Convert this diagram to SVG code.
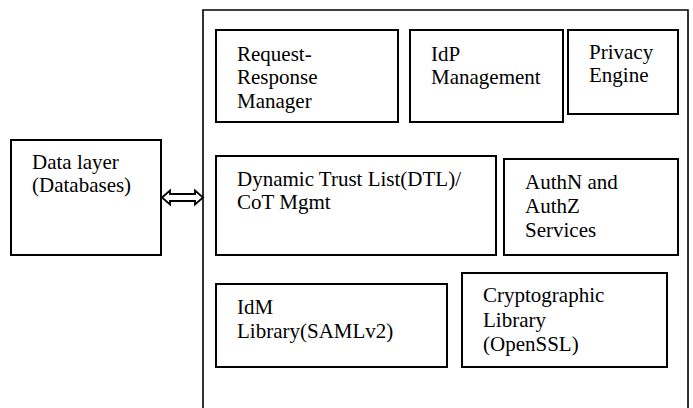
<svg xmlns="http://www.w3.org/2000/svg" width="693" height="408" viewBox="0 0 693 408">
<style>
.box{fill:#fff;stroke:#000;stroke-width:2}
.outer{fill:none;stroke:#000;stroke-width:1.6}
.t{font-family:'Liberation Serif','Times New Roman',Times,serif;font-size:21px;fill:#000}
.arrow{fill:#fff;stroke:#000;stroke-width:1.8;stroke-linejoin:miter}
</style>
<rect width="693" height="408" fill="#fff"/>
<g id="container"><path class="outer" d="M203,420 V10 H688 V420"/></g>
<g id="data-layer"><rect class="box" x="11" y="140" width="150" height="115"/><text class="t" x="32" y="169">Data layer</text><text class="t" x="32" y="192">(Databases)</text></g>
<g id="request-response"><rect class="box" x="216" y="30" width="182" height="92"/><text class="t" x="237" y="61">Request-</text><text class="t" x="237" y="84">Response</text><text class="t" x="237" y="107.5">Manager</text></g>
<g id="idp-management"><rect class="box" x="410" y="30" width="153" height="92"/><text class="t" x="431" y="61">IdP</text><text class="t" x="431" y="84">Management</text></g>
<g id="privacy-engine"><rect class="box" x="568" y="30" width="110" height="84"/><text class="t" x="589" y="59">Privacy</text><text class="t" x="589" y="82">Engine</text></g>
<g id="dtl"><rect class="box" x="216" y="156" width="280" height="99"/><text class="t" x="237" y="186">Dynamic Trust List(DTL)/</text><text class="t" x="237" y="209">CoT Mgmt</text></g>
<g id="authn"><rect class="box" x="504" y="159" width="174" height="96"/><text class="t" x="525" y="189">AuthN and</text><text class="t" x="525" y="213">AuthZ</text><text class="t" x="525" y="237">Services</text></g>
<g id="idm-library"><rect class="box" x="216" y="284" width="231" height="83"/><text class="t" x="237" y="314">IdM</text><text class="t" x="237" y="337.5">Library(SAMLv2)</text></g>
<g id="crypto"><rect class="box" x="462" y="273" width="205" height="94"/><text class="t" x="483" y="302">Cryptographic</text><text class="t" x="483" y="327">Library</text><text class="t" x="483" y="351">(OpenSSL)</text></g>
<g id="connectors"><path class="arrow" d="M162,197.5 L170,190.5 V194 H195 V190.5 L203,197.5 L195,204.5 V201 H170 V204.5 Z"/></g>
</svg>
